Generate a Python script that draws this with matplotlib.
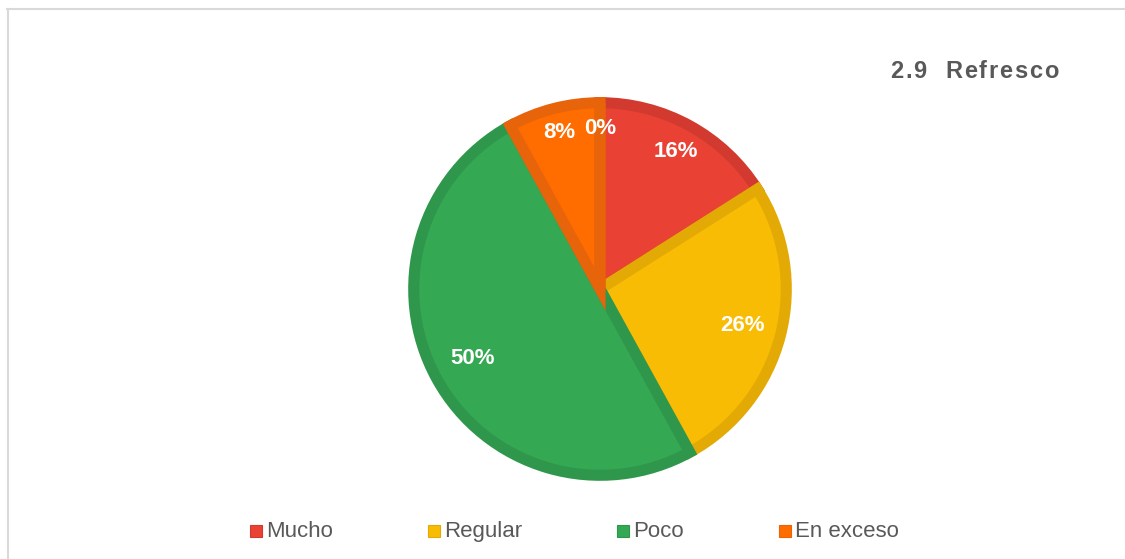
import numpy as np
import matplotlib.pyplot as plt
from matplotlib.lines import Line2D
from matplotlib.patches import Rectangle
from matplotlib.font_manager import FontProperties

# datos
categorias = ["Mucho", "Regular", "Poco", "En exceso", ""]
valores = [16, 26, 50, 8, 0]
colores = ["#E94235", "#F9BC04", "#34A853", "#FF6D01", "#FF6D01"]
bordes = ["#D23A2F", "#E3AA06", "#2F974B", "#E8640A", "#E8640A"]
dist_etiq = [0.84, 0.79, 0.78, 0.87, 0.86]
titulo = "2.9  Refresco"

plt.rcParams['font.family'] = ['Liberation Sans', 'DejaVu Sans']

W, H = 1125, 559
fig = plt.figure(figsize=(W / 100, H / 100), dpi=100)
renderer = fig.canvas.get_renderer()

def ancho(s, prop):
    w, h, d = renderer.get_text_width_height_descent(s, prop, ismath=False)
    return w

# marco gris (solo arriba e izquierda)
fig.add_artist(Line2D([7/W, 1], [1-8.5/H, 1-8.5/H], color="#d9d9d9", lw=1.5))
fig.add_artist(Line2D([7.5/W, 7.5/W], [0, 1-8.5/H], color="#d9d9d9", lw=1.5))

ax = fig.add_axes([410/W, 1-479/H, 380/W, 380/H])
wedges, texts = ax.pie(valores, colors=colores, startangle=90, counterclock=False,
                       radius=1, wedgeprops=dict(linewidth=0))
ax.set_xlim(-1.02, 1.02)
ax.set_ylim(-1.02, 1.02)
ax.set_aspect("equal")
ax.axis("off")

for w, b in zip(wedges, bordes):
    w.set_edgecolor(b)
    w.set_linewidth(8)
    w.set_clip_path(w)

total = sum(valores)
ang = 90.0
for v, d in zip(valores, dist_etiq):
    a = ang - v / total * 360 / 2
    ang -= v / total * 360
    ax.text(d * np.cos(np.radians(a)), d * np.sin(np.radians(a)), f"{v}%",
            ha="center", va="center", color="white", fontsize=16, fontweight="bold")

# titulo con espaciado entre letras
prop_t = FontProperties(family="Liberation Sans", weight="bold", size=17)
espacio = 1.8
x0 = 890
for i, ch in enumerate(titulo):
    w = ancho(titulo[:i], prop_t) if i > 0 else 0
    fig.text((x0 + w + i * espacio) / W, 1 - 72 / H, ch, ha="left", va="center",
             fontproperties=prop_t, color="#595959")

# leyenda manual (misma linea base)
prop_l = FontProperties(family="Liberation Sans", size=16)
x = 250
base = 537
for nombre, c, b in zip(categorias[:4], colores[:4], bordes[:4]):
    fig.add_artist(Rectangle((x / W, 1 - base / H), 12 / W, 12 / H,
                             facecolor=c, edgecolor=b, lw=0.8, transform=fig.transFigure))
    fig.text((x + 16) / W, 1 - base / H, nombre, ha="left", va="baseline",
             fontproperties=prop_l, color="#595959")
    x += 16 + ancho(nombre, prop_l) + 95

fig.savefig("out.png", dpi=100)
